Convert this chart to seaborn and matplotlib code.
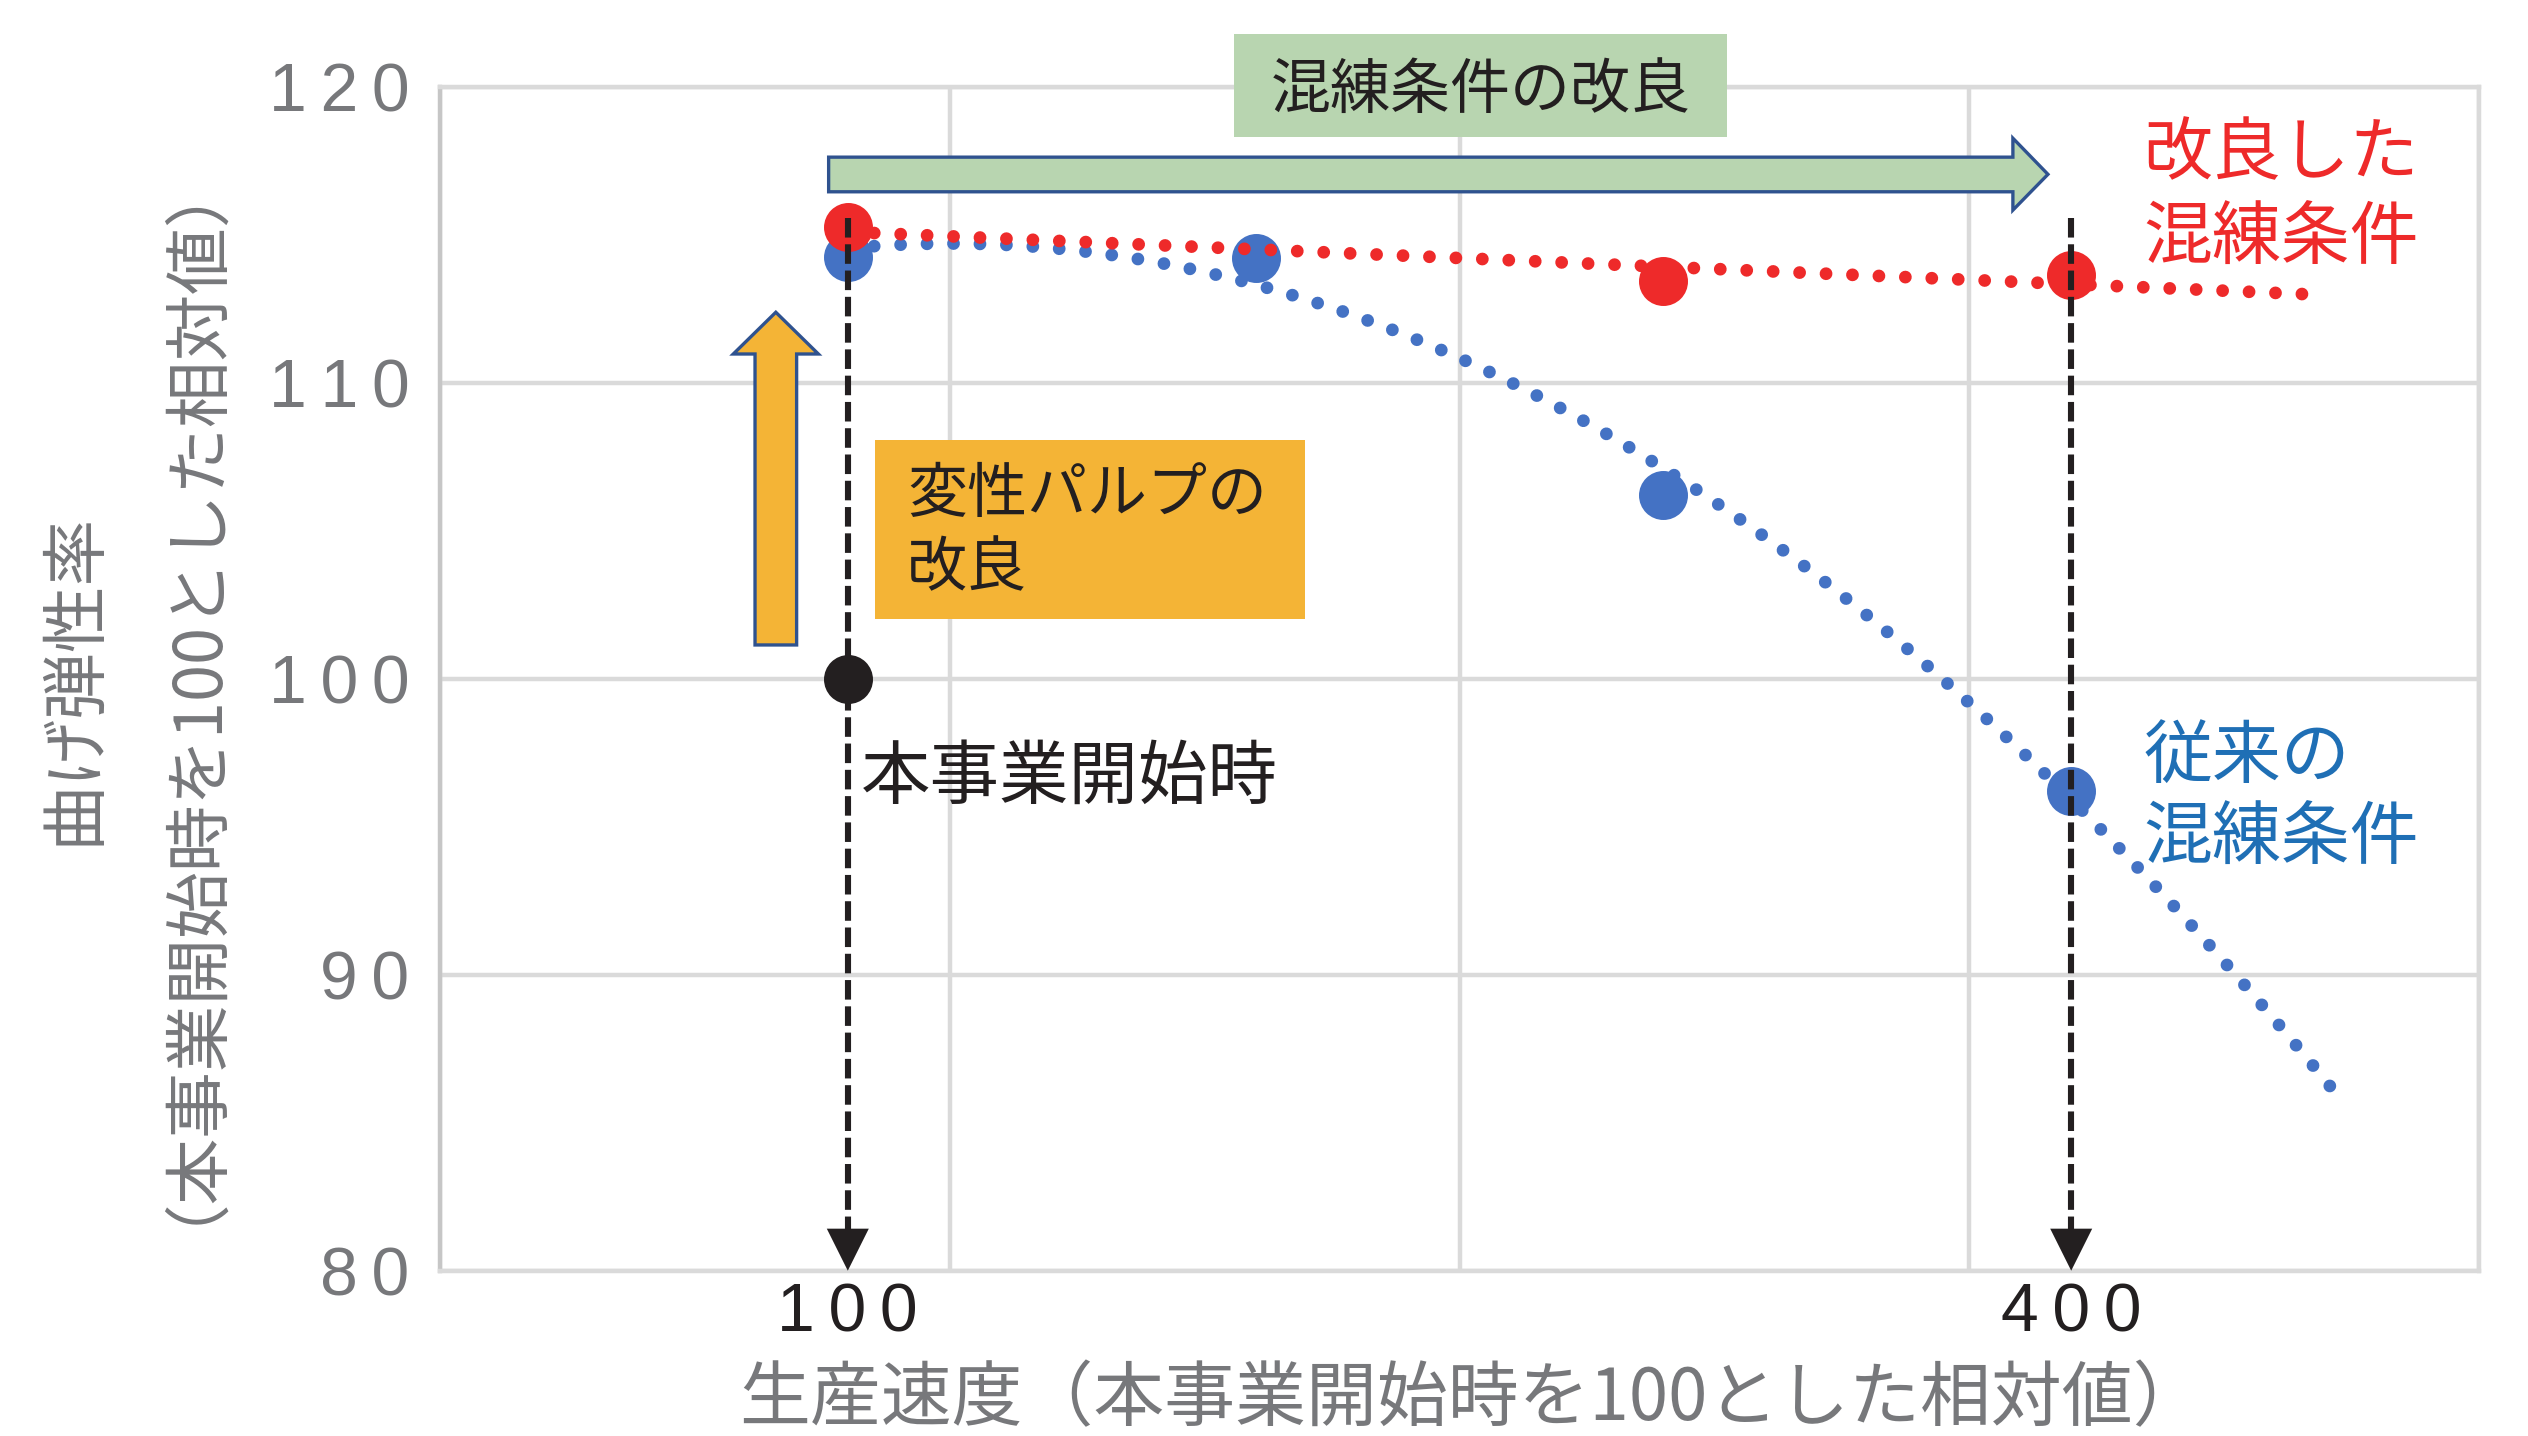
import matplotlib
matplotlib.use("Agg")
import matplotlib.pyplot as plt
import matplotlib.patches as mpatches
import seaborn as sns

# Production speed (relative value, project start = 100)
speed_conventional = [100, 200, 300, 400]
# Flexural modulus with the conventional kneading conditions
modulus_conventional = [114.24, 114.22, 106.2, 96.22]

speed_improved = [100, 300, 400]
# Flexural modulus with the improved kneading conditions
modulus_improved = [115.25, 113.45, 113.64]

# Value at the start of the project
speed_start = [100]
modulus_start = [100.0]

y_ticks = [80, 90, 100, 110, 120]
x_ticks = [100, 400]
x_grid = [0, 125, 250, 375, 500]

BLUE = "#4472c4"
RED = "#ee2a2a"
BLUE_TEXT = "#1f6fb5"
BLACK = "#231f20"
GRAY = "#77787b"
GRID = "#dadada"
GREEN = "#b8d5b0"
ORANGE = "#f4b436"
OUTLINE = "#2f528f"

sns.set_theme(style="white")
plt.rcParams["font.family"] = ["Noto Sans CJK JP", "DejaVu Sans"]
NUM_FONT = ["Liberation Sans", "DejaVu Sans"]

fig = plt.figure(figsize=(12.64, 7.18), dpi=200)
ax = fig.add_axes([0.17405, 0.11511, 0.80657, 0.82451])

# Trend lines: quadratic for conventional, linear for improved,
# extended a little beyond the last measured speed.
dotted = dict(lw=4.6, ls=(0, (0.001, 2.07)), dash_capstyle="round")
ax.set_xlim(100, 465)
sns.regplot(x=speed_conventional, y=modulus_conventional, order=2, ci=None,
            scatter=False, truncate=False, color=BLUE, ax=ax,
            line_kws=dict(zorder=3, **dotted))
ax.set_xlim(100, 460)
sns.regplot(x=speed_improved, y=modulus_improved, order=1, ci=None,
            scatter=False, truncate=False, color=RED, ax=ax,
            line_kws=dict(zorder=5, **dotted))
ax.set_xlim(0, 500)
ax.set_ylim(80, 120)

# Measured points
sns.scatterplot(x=speed_conventional, y=modulus_conventional, color=BLUE,
                s=311, linewidth=0, zorder=2.5, ax=ax)
sns.scatterplot(x=speed_improved, y=modulus_improved, color=RED,
                s=311, linewidth=0, zorder=4, ax=ax)

# Dashed guides pointing down to the speed values
for xv in x_ticks:
    ax.plot([xv, xv], [115.56, 81.42], color=BLACK, lw=2.2,
            ls=(0, (3.2, 1.1)), zorder=6, solid_capstyle="butt")
    ax.add_patch(mpatches.Polygon([(xv - 5.15, 81.42), (xv + 5.15, 81.42), (xv, 80.0)],
                                  closed=True, facecolor=BLACK, edgecolor="none",
                                  zorder=6, clip_on=False))

sns.scatterplot(x=speed_start, y=modulus_start, color=BLACK,
                s=311, linewidth=0, zorder=7, ax=ax)

# Axes styling
ax.set_axisbelow(True)
ax.set_yticks(y_ticks)
ax.set_yticklabels(["\u2009".join(str(v)) for v in y_ticks],
                   fontfamily=NUM_FONT, fontsize=24.5, color=GRAY)
ax.set_xticks(x_ticks)
ax.set_xticklabels(["\u2009".join(str(v)) for v in x_ticks],
                   fontfamily=NUM_FONT, fontsize=24.5, color=BLACK)
ax.set_xticks(x_grid, minor=True)
ax.tick_params(axis="both", which="both", length=0)
ax.tick_params(axis="y", pad=11)
ax.tick_params(axis="x", pad=4)
ax.grid(False)
ax.xaxis.grid(True, which="minor", color=GRID, lw=1.6)
ax.yaxis.grid(True, which="major", color=GRID, lw=1.6)
for side, sp in ax.spines.items():
    sp.set_visible(True)
    sp.set_color(GRID)
    sp.set_linewidth(1.6)
ax.spines["left"].set_color("#c6c6c6")

ax.set_xlabel("生産速度（本事業開始時を100とした相対値）", fontsize=25.5, color=GRAY)
ax.xaxis.set_label_coords(0.506, -0.109)
ax.xaxis.label.set_va("center")
ax.set_ylabel("")
ax.text(-0.1792, 0.5, "曲げ弾性率", rotation=90, transform=ax.transAxes,
        ha="center", va="center", fontsize=24, color=GRAY)
ax.text(-0.1385, 0.508, "（本事業開始時を100とした相対値）", rotation=90,
        transform=ax.transAxes, ha="center", va="center", fontsize=24, color=GRAY)

# Improvement of the kneading conditions: box and horizontal arrow
ax.add_patch(mpatches.Rectangle((194.6, 118.3), 121.0, 3.48, facecolor=GREEN,
                                edgecolor="none", zorder=5, clip_on=False))
ax.text(255.1, 119.88, "混練条件の改良", ha="center", va="center",
        fontsize=21.6, color=BLACK, zorder=6, clip_on=False)
ax.add_patch(mpatches.Polygon(
    [(95.3, 116.45), (385.7, 116.45), (385.7, 115.83), (394.3, 117.04),
     (385.7, 118.26), (385.7, 117.62), (95.3, 117.62)],
    closed=True, facecolor=GREEN, edgecolor=OUTLINE, lw=1.2, zorder=4))

# Improvement of the modified pulp: vertical arrow and box
ax.add_patch(mpatches.Polygon(
    [(77.25, 101.14), (87.45, 101.14), (87.45, 110.97), (92.78, 110.97),
     (82.35, 112.38), (71.92, 110.97), (77.25, 110.97)],
    closed=True, facecolor=ORANGE, edgecolor=OUTLINE, lw=1.2, zorder=4))
ax.add_patch(mpatches.Rectangle((106.7, 102.01), 105.4, 6.05, facecolor=ORANGE,
                                edgecolor="none", zorder=4))
ax.text(114.5, 106.22, "変性パルプの", ha="left", va="center",
        fontsize=21.6, color=BLACK, zorder=5)
ax.text(114.5, 103.72, "改良", ha="left", va="center",
        fontsize=21.6, color=BLACK, zorder=5)

# Annotations
ax.text(103.2, 96.66, "本事業開始時", ha="left", va="center",
        fontsize=25, color=BLACK, zorder=6)
ax.text(417.6, 117.69, "改良した", ha="left", va="center",
        fontsize=24.8, color=RED, zorder=6)
ax.text(417.6, 114.82, "混練条件", ha="left", va="center",
        fontsize=24.8, color=RED, zorder=6)
ax.text(417.8, 97.34, "従来の", ha="left", va="center",
        fontsize=24.8, color=BLUE_TEXT, zorder=6)
ax.text(417.8, 94.57, "混練条件", ha="left", va="center",
        fontsize=24.8, color=BLUE_TEXT, zorder=6)

fig.savefig("out.png", dpi=200, facecolor="white")
